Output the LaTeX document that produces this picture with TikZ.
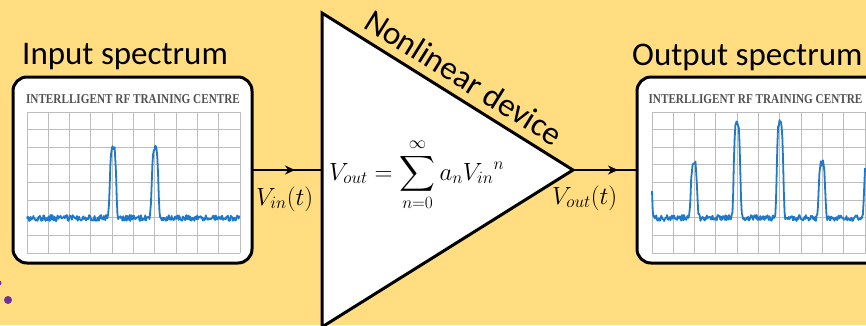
\documentclass[tikz,border=0pt]{standalone}
\usepackage{exscale}
\usepackage{fontspec}
\setmainfont{Carlito}
\newfontfamily\titlefont{Liberation Serif}
\usetikzlibrary{arrows.meta,decorations.markings}
\definecolor{bg}{HTML}{FFDD80}
\definecolor{gridc}{HTML}{BDBDBD}
\definecolor{specc}{HTML}{1F78C8}
\definecolor{titlec}{HTML}{505050}
\definecolor{dotc}{HTML}{7030A0}
\begin{document}
\begin{tikzpicture}[x=1pt,y=-1pt,
  declare function={pk(\a,\c)=exp(-(min(6,((\a-\c)/3.6)^2))^2);},
  scr/.style={draw=black, line width=3pt, rounded corners=14pt, fill=white, outer sep=0pt, inner sep=0pt},
  grd/.style={draw=gridc, line width=1pt},
  spec/.style={draw=specc, line width=1.8pt, line join=round},
  ttl/.style={font=\titlefont\bfseries\fontsize{13.5}{14}\selectfont, text=titlec, inner sep=0pt},
  lbl/.style={font=\fontsize{33}{36}\selectfont, inner sep=0pt},
  mth/.style={font=\fontsize{27}{30}\selectfont, inner sep=0pt},
  wirein/.style={line width=2.4pt, postaction={decorate}, decoration={markings, mark=at position 43pt with {\arrow{Stealth[length=10pt,width=9pt]}}}},
  wireout/.style={line width=2.4pt, postaction={decorate}, decoration={markings, mark=at position 45pt with {\arrow{Stealth[length=10pt,width=9pt]}}}}
]
\useasboundingbox (0,0) rectangle (866,325);
\clip (0,0) rectangle (866,325);
\fill[bg] (0,0) rectangle (866,325);
\pgfmathsetseed{7}

% labels
\node[lbl, anchor=base west] (inlbl) at (22,64) {Input spectrum};
\node[lbl, anchor=base west] (outlbl) at (632,65) {Output spectrum};

% input screen
\node[scr, minimum width=239pt, minimum height=186pt] (inbox) at (132.5,170) {};
\node[ttl] (inttl) at (133,99) {\scalebox{0.83}[1]{INTERLLIGENT RF TRAINING CENTRE}};
\foreach \i in {0,...,10} \draw[grd] ({27+\i*21.3},112) -- ({27+\i*21.3},253);
\foreach \j in {0,...,8} \draw[grd] (27,{112+\j*17.625}) -- (240,{112+\j*17.625});
\draw[spec] plot[domain=27:240, samples=300] (\x, {218 - 71*pk(\x,113) - 71*pk(\x,155) + 3*rand});

% output screen
\node[scr, minimum width=253pt, minimum height=186pt] (outbox) at (763.5,170) {};
\node[ttl] (outttl) at (755.5,99) {\scalebox{0.83}[1]{INTERLLIGENT RF TRAINING CENTRE}};
\foreach \i in {0,...,10} \draw[grd] ({652+\i*21.3},112) -- ({652+\i*21.3},253);
\foreach \j in {0,...,8} \draw[grd] (652,{112+\j*17.625}) -- (866,{112+\j*17.625});
\draw[spec] plot[domain=652:865, samples=300] (\x, {218 - 60*pk(\x,648.5) - 55*pk(\x,694) - 96*pk(\x,737) - 96*pk(\x,780) - 55*pk(\x,822) - 60*pk(\x,867.5) + 3*rand});

% triangle
\coordinate (tritop) at (322,13);
\coordinate (triapex) at (573,170);
\coordinate (tribot) at (322,327);
\coordinate (triin) at (322,170);
\draw[line width=3pt, fill=white, line join=miter] (tritop) -- (triapex) -- (tribot) -- cycle;
\node[lbl, rotate=-32, anchor=base] (devlbl) at (458,87) {Nonlinear device};
\node[mth, anchor=base west] (eq) at (329,180) {$\displaystyle V_{out}=\sum_{n=0}^{\infty}a_n{V_{in}}^{n}$};

% wires
\draw[wirein] (inbox.east) -- (triin);
\draw[wireout] (triapex) -- (outbox.west);
\node[mth, anchor=base west] (vin) at (256,205) {$V_{in}(t)$};
\node[mth, anchor=base west] (vout) at (552,204) {$V_{out}(t)$};

% purple dots
\fill[dotc] (8,300) circle (4pt);
\fill[dotc] (-1,283) circle (2.5pt);
\end{tikzpicture}
\end{document}
